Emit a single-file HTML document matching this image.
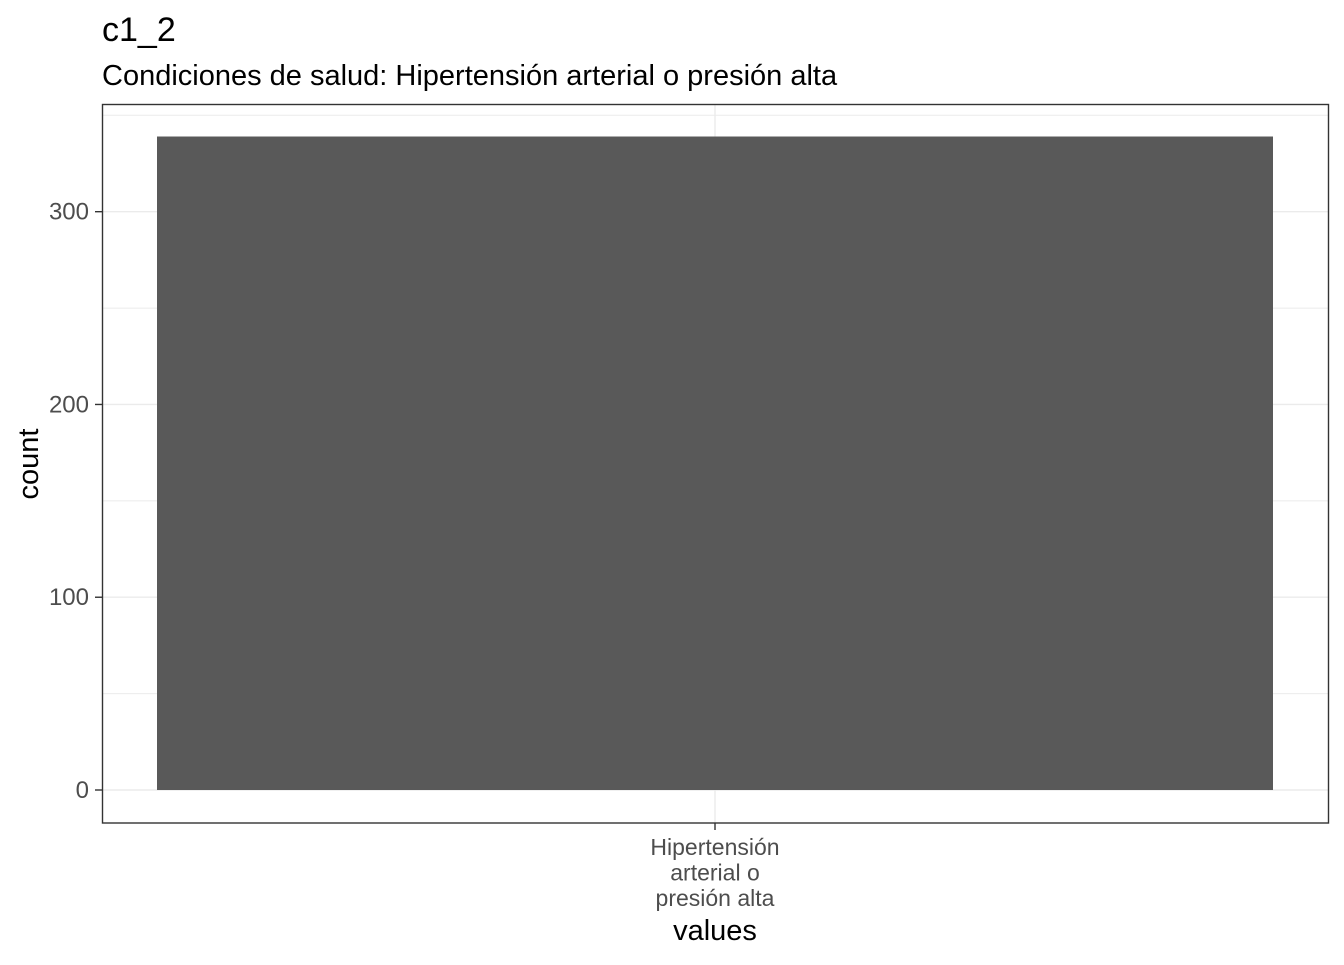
<!DOCTYPE html>
<html><head><meta charset="utf-8"><style>
body{margin:0;background:#fff;font-family:"Liberation Sans",Arial,sans-serif}
</style></head><body>
<svg width="1344" height="960" viewBox="0 0 1344 960" xmlns="http://www.w3.org/2000/svg">
<text x="102" y="41" font-size="34" fill="#000">c1_2</text>
<text x="102" y="85" font-size="29" fill="#000">Condiciones de salud: Hipertensión arterial o presión alta</text>
<g id="grid"></g>
<g id="bars"></g>
<rect x="102.5" y="104.5" width="1226" height="718.5" fill="none" stroke="#333" stroke-width="1.4"/>
<g id="yaxis"></g>
<g id="xaxis"></g>
<text x="715" y="940" font-size="29" text-anchor="middle" fill="#000">values</text>
<text transform="translate(38,464) rotate(-90)" font-size="29" text-anchor="middle" fill="#000">count</text>
</svg>
<script>
const categories = ["Hipertensión arterial o presión alta"];
const counts = [339];
const yTicks = [0, 100, 200, 300];
const yMinor = [50, 150, 250, 350];
const xLabelLines = [["Hipertensión", "arterial o", "presión alta"]];
const NS = "http://www.w3.org/2000/svg";
const y0 = 790, yScale = 1.9277;
const y = v => y0 - v * yScale;
const panelL = 102.5, panelR = 1328.5;
const x = i => 715;
function mk(tag, attrs, parent) {
  const e = document.createElementNS(NS, tag);
  for (const k in attrs) e.setAttribute(k, attrs[k]);
  document.getElementById(parent).appendChild(e);
  return e;
}
yMinor.forEach(v => {
  const l = mk("line", {x1: panelL, x2: panelR, y1: y(v), y2: y(v), stroke: "#ebebeb", "stroke-width": 1}, "grid");
  
  
});
yTicks.forEach(v => {
  const l = mk("line", {x1: panelL, x2: panelR, y1: y(v), y2: y(v), stroke: "#ebebeb", "stroke-width": 1.4}, "grid");
  
  
  const t = mk("line", {x1: 95, x2: 102.5, y1: y(v), y2: y(v), stroke: "#333", "stroke-width": 1.4}, "yaxis");
  
  
  const tx = mk("text", {x: 89, y: y(v) + 8, "font-size": 24, "text-anchor": "end", fill: "#4d4d4d"}, "yaxis");
  tx.textContent = v;
  
  
});
categories.forEach((c, i) => {
  const g = mk("line", {x1: x(i), x2: x(i), y1: 104.5, y2: 823, stroke: "#ebebeb", "stroke-width": 1.4}, "grid");
  
  
  const r = mk("rect", {x: 157, y: y(counts[i]), width: 1116, height: y0 - y(counts[i]), fill: "#595959"}, "bars");
  
  
  const t = mk("line", {x1: x(i), x2: x(i), y1: 823, y2: 830, stroke: "#333", "stroke-width": 1.4}, "xaxis");
  
  
  xLabelLines[i].forEach((s, j) => {
    const tx = mk("text", {x: x(i), y: 855 + j * 25.5, "font-size": 23, "text-anchor": "middle", fill: "#4d4d4d"}, "xaxis");
    tx.textContent = s;
    
    
  });
});
</script>
</body></html>
